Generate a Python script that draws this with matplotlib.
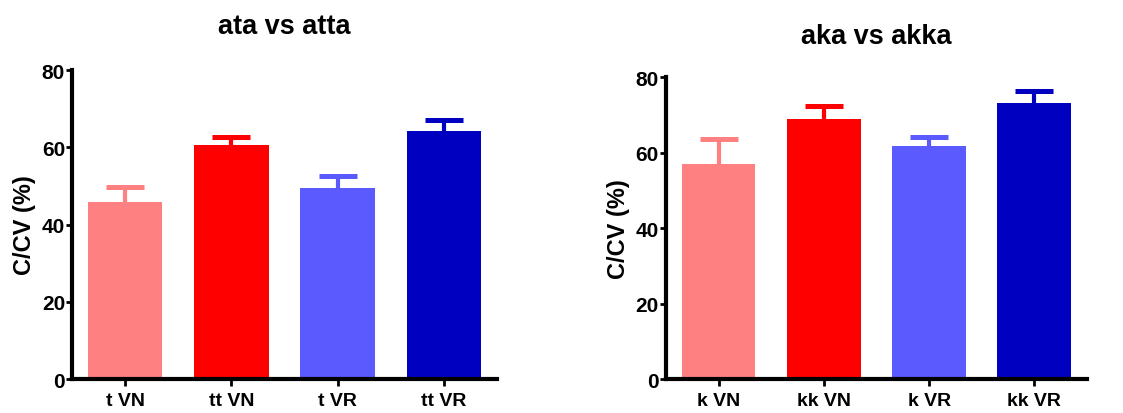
import numpy as np
import matplotlib.pyplot as plt

plt.rcParams['font.family'] = ['Liberation Sans', 'DejaVu Sans']
plt.rcParams['font.weight'] = 'bold'

# data
left_labels = ['t VN', 'tt VN', 't VR', 'tt VR']
left_means = [45.7, 60.6, 49.5, 64.2]
left_err = [4.1, 2.0, 3.1, 2.9]

right_labels = ['k VN', 'kk VN', 'k VR', 'kk VR']
right_means = [57.0, 68.9, 61.9, 73.2]
right_err = [6.6, 3.6, 2.3, 3.1]

colors = ['#FF8080', '#FF0000', '#5A5AFF', '#0000C0']

fig = plt.figure(figsize=(11.23, 4.14), dpi=100)
ax1 = fig.add_axes([0.0641, 0.0821, 0.3785, 0.7464])
ax2 = fig.add_axes([0.5930, 0.0821, 0.3749, 0.7287])


def draw(ax, labels, means, err, title, title_pad):
    x = np.arange(len(labels))
    ax.bar(x, means, width=0.70, color=colors, zorder=2)
    for i in range(len(x)):
        eb = ax.errorbar(x[i], means[i], yerr=[[0], [err[i]]], fmt='none',
                         ecolor=colors[i], elinewidth=3, capsize=13.5,
                         capthick=3.6, zorder=1)
        # only the upper cap is wanted
        eb[1][0].set_visible(False)
    ax.set_xlim(-0.5, 3.5)
    ax.set_ylim(0, 80)
    ax.set_yticks([0, 20, 40, 60, 80])
    ax.set_xticks(x)
    ax.set_xticklabels(labels, fontsize=14, fontweight='bold')
    for lab in ax.get_yticklabels():
        lab.set_fontsize(15)
        lab.set_fontweight('bold')
    ax.spines['top'].set_visible(False)
    ax.spines['right'].set_visible(False)
    ax.spines['left'].set_linewidth(3)
    ax.spines['bottom'].set_linewidth(3)
    ax.tick_params(axis='y', width=2, length=4, pad=1)
    ax.tick_params(axis='x', width=2, length=5, pad=4)
    ax.set_ylabel('C/CV (%)', fontsize=17, fontweight='bold', labelpad=4)
    ax.set_title(title, fontsize=19.5, fontweight='bold', pad=title_pad)


draw(ax1, left_labels, left_means, left_err, 'ata vs atta', 27)
draw(ax2, right_labels, right_means, right_err, 'aka vs akka', 25)

fig.savefig('out.png', dpi=100)
